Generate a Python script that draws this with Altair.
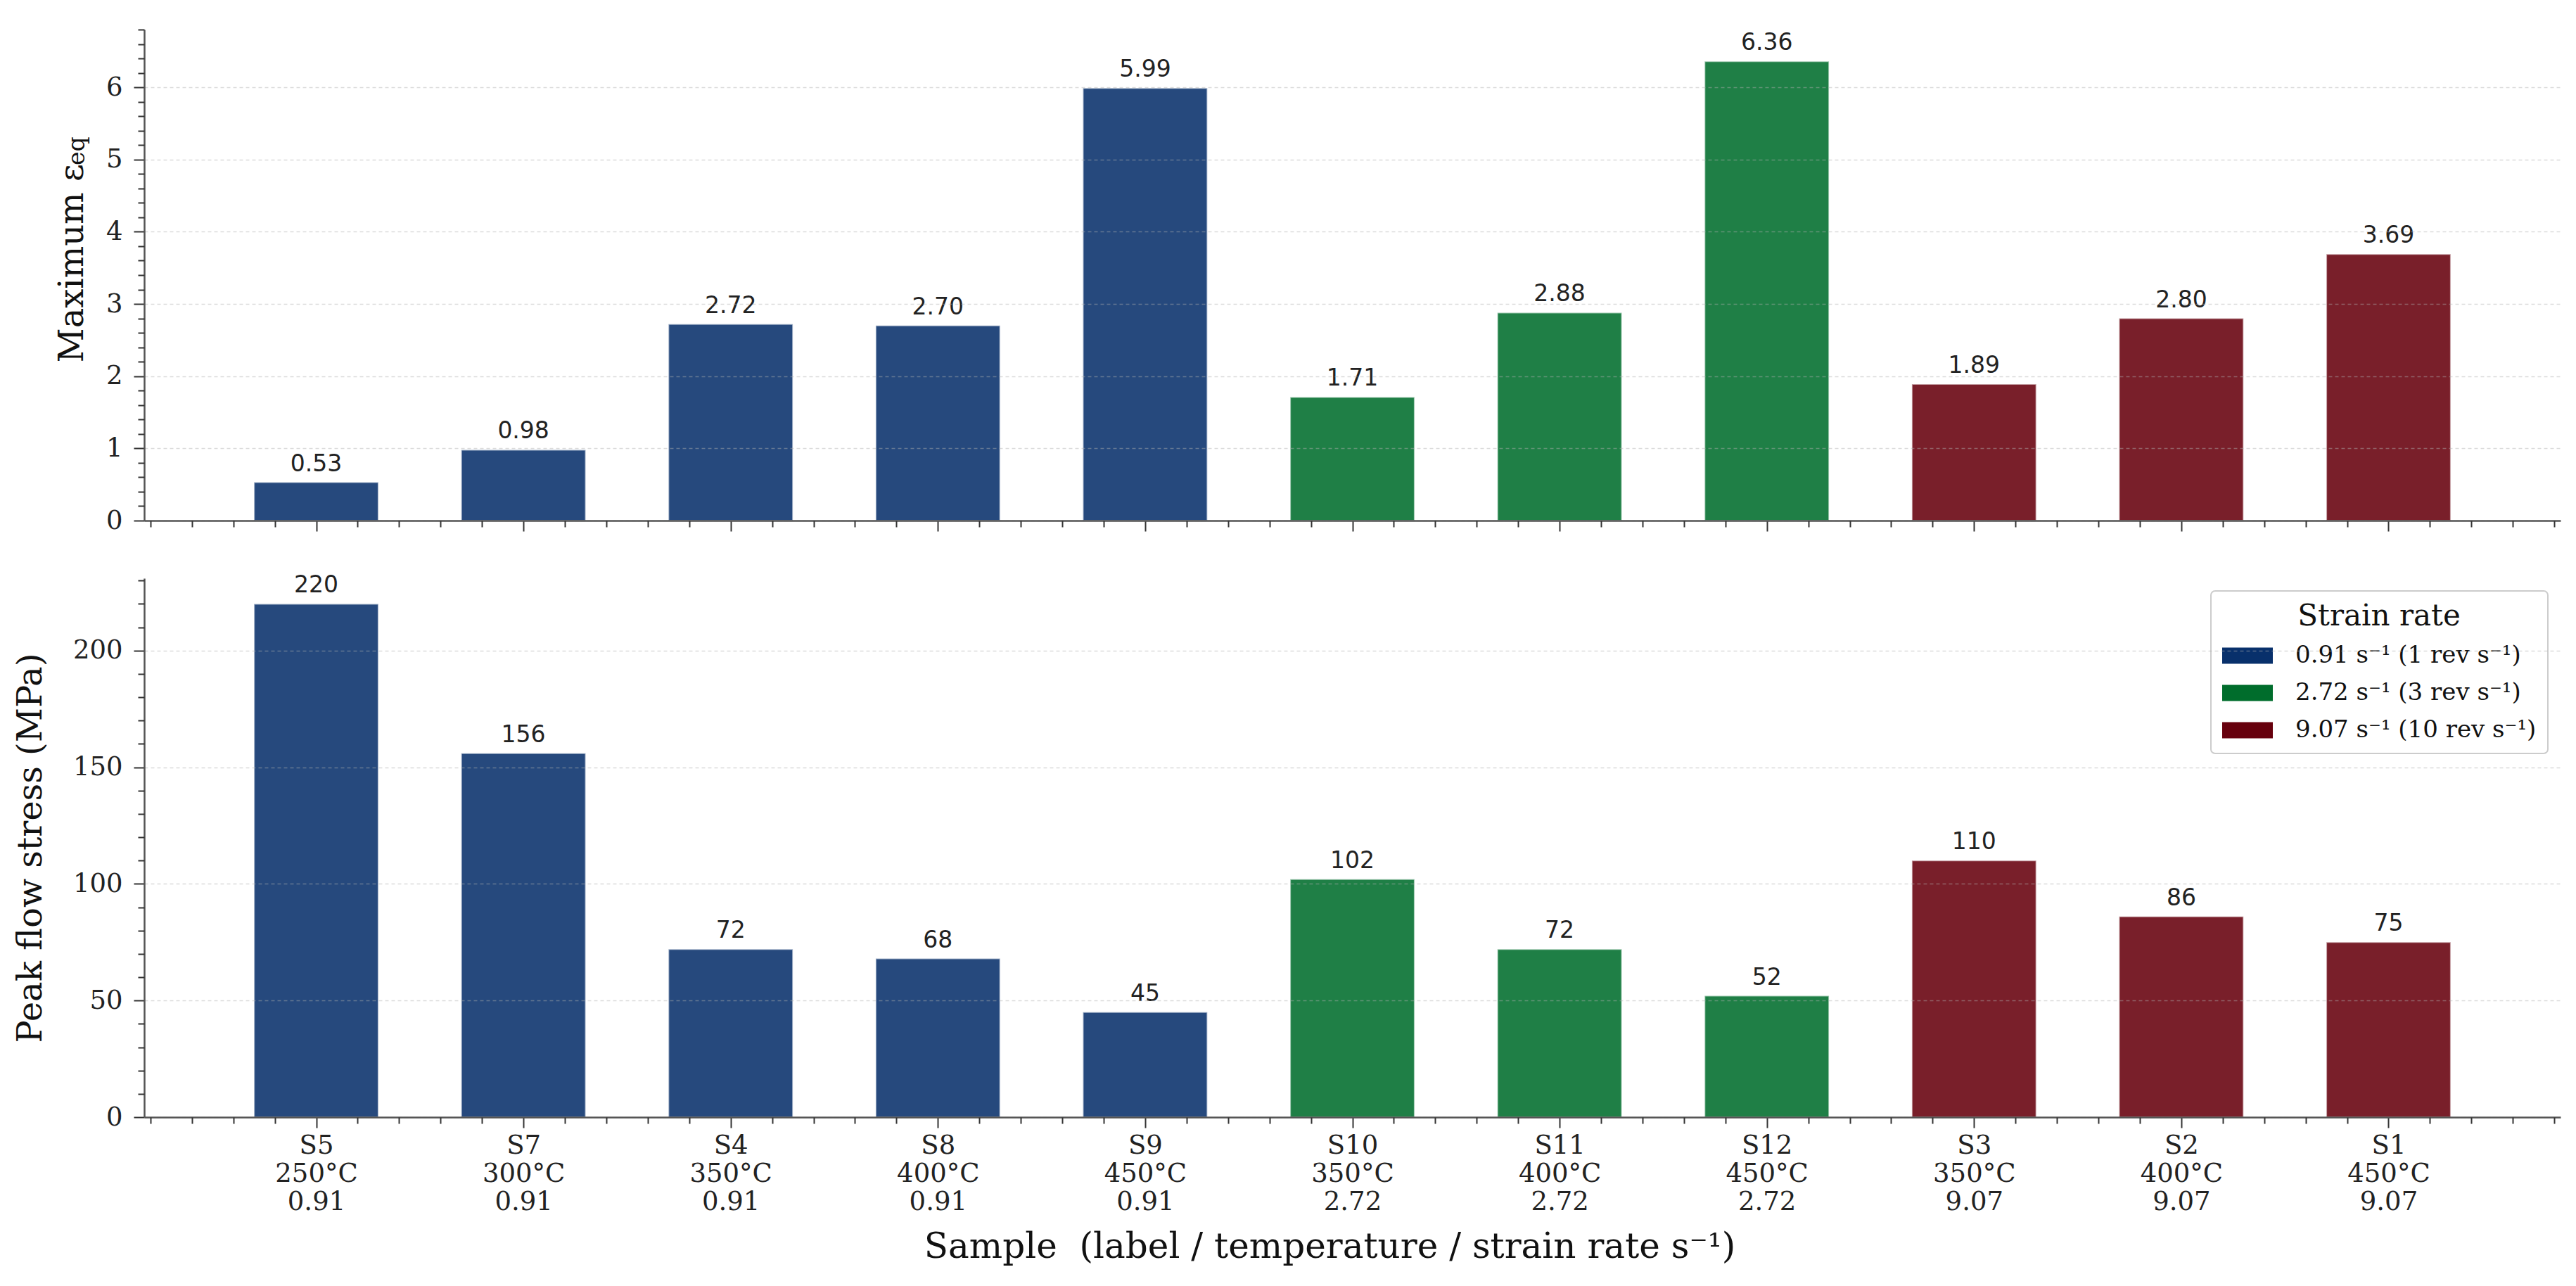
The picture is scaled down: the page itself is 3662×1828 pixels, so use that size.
import altair as alt
import pandas as pd

# ---- data -------------------------------------------------------------
samples = ["S5", "S7", "S4", "S8", "S9", "S10", "S11", "S12", "S3", "S2", "S1"]
temperatures = ["250°C", "300°C", "350°C", "400°C", "450°C",
                "350°C", "400°C", "450°C", "350°C", "400°C", "450°C"]
rate_values = ["0.91", "0.91", "0.91", "0.91", "0.91",
               "2.72", "2.72", "2.72", "9.07", "9.07", "9.07"]
max_strain = [0.53, 0.98, 2.72, 2.70, 5.99, 1.71, 2.88, 6.36, 1.89, 2.80, 3.69]
peak_stress = [220, 156, 72, 68, 45, 102, 72, 52, 110, 86, 75]

rate_groups = ["0.91 s⁻¹ (1 rev s⁻¹)", "2.72 s⁻¹ (3 rev s⁻¹)", "9.07 s⁻¹ (10 rev s⁻¹)"]
rate_keys = ["0.91", "2.72", "9.07"]
group_colors = ["#08306b", "#006d2c", "#67000d"]

strain_ticks = [0, 1, 2, 3, 4, 5, 6]
stress_ticks = [0, 50, 100, 150, 200]
strain_limit = 6.8
stress_limit = 231
x_limits = [-0.83, 10.83]
bar_half = 0.3

# ---- table ------------------------------------------------------------
group_of = dict(zip(rate_keys, rate_groups))
df = pd.DataFrame({
    "idx": list(range(len(samples))),
    "sample": samples,
    "group": [group_of[r] for r in rate_values],
    "strain": max_strain,
    "stress": peak_stress,
    "strain_txt": [f"{v:.2f}" for v in max_strain],
    "stress_txt": [f"{v:d}" for v in peak_stress],
})

# minor tick positions (every 0.2 category on x, 0.2 / 10 on the y axes)
minor_x = [round(-0.8 + 0.2 * i, 1) for i in range(59)]
minor_x = [v for v in minor_x if abs(v - round(v)) > 1e-6]
minor_strain = [round(0.2 * i, 1) for i in range(35) if i % 5]
minor_stress = [10 * i for i in range(24) if i % 5]

label_js = "[" + ",".join(
    "['%s','%s','%s']" % (s, t, r) for s, t, r in zip(samples, temperatures, rate_values)
) + "]"

FONT = "DejaVu Serif"
TITLE_SIZE = 48
x_scale = alt.Scale(domain=x_limits, nice=False, zero=False)
color_scale = alt.Scale(domain=rate_groups, range=group_colors)

GRID = dict(grid=True, gridDash=[5, 4], gridColor="#b0b0b0", gridOpacity=0.45, gridWidth=1.5)


def x_major(with_labels):
    kw = dict(values=list(range(len(samples))), orient="bottom", tickSize=15,
              domain=True, grid=False, zindex=1, labelAngle=0)
    if with_labels:
        kw.update(labels=True, labelExpr=f"{label_js}[datum.value]", labelPadding=7,
                  labelLineHeight=40, labelBaseline="top",
                  title="Sample\u00a0 (label / temperature / strain rate s⁻¹)",
                  titleFontSize=50, titleX=1685, titleY=199, titleBaseline="alphabetic")
    else:
        kw.update(labels=False, title=None)
    return alt.Axis(**kw)


x_minor = alt.Axis(values=minor_x, orient="bottom", labels=False, tickSize=9,
                   domain=False, grid=False, title=None, zindex=1)


def panel(field, txt, limit, ticks, minor, title, title_kw, legend):
    base = alt.Chart(df).transform_calculate(
        x0=f"datum.idx - {bar_half}", x1=f"datum.idx + {bar_half}"
    )
    y_scale = alt.Scale(domain=[0, limit], nice=False, zero=True)
    bars = base.mark_rect(fillOpacity=0.88, stroke="white", strokeWidth=2,
                          strokeOpacity=0.55).encode(
        x=alt.X("x0:Q", scale=x_scale, axis=x_major(legend is not None)),
        x2="x1:Q",
        y=alt.Y(f"{field}:Q", scale=y_scale,
                axis=alt.Axis(values=ticks, orient="left", tickSize=15, labelPadding=16,
                              domain=True, zindex=1, format="d", title=title,
                              titleAngle=270, titleBaseline="alphabetic", **title_kw, **GRID)),
        y2=alt.datum(0),
        color=alt.Color("group:N", scale=color_scale, legend=legend),
    )
    labels = base.mark_text(baseline="alphabetic", dy=-16, font="DejaVu Sans",
                            fontSize=33, color="#222222").encode(
        x=alt.X("idx:Q", scale=x_scale, axis=x_minor),
        y=alt.Y(f"{field}:Q", scale=y_scale,
                axis=alt.Axis(values=minor, orient="left", labels=False, tickSize=9,
                              domain=False, grid=False, title=None, zindex=1)),
        text=f"{txt}:N",
    )
    return bars, labels


legend = alt.Legend(
    title="Strain rate", orient="top-right", offset=18,
    fillColor="white", strokeColor="#cccccc", padding=16,
    titleFont=FONT, titleFontSize=42, titleFontWeight="normal", titleAnchor="middle",
    titleColor="#111111", titlePadding=10, titleLimit=2000,
    labelFont=FONT, labelFontSize=34, labelColor="#111111", labelOffset=56, labelLimit=2000,
    symbolType="M-1,-0.48H2V0.48H-1Z", symbolSize=2304, symbolOpacity=1,
    symbolStrokeWidth=0, rowPadding=12,
)

# top panel: maximum equivalent strain
t_bars, t_labels = panel("strain", "strain_txt", strain_limit, strain_ticks, minor_strain,
                         "Maximum ε", dict(titleX=-88, titleY=473, titleAlign="left"), None)
subscript = alt.Chart(alt.Data(values=[{"t": "eq"}])).mark_text(
    angle=270, align="left", baseline="alphabetic", font=FONT, fontSize=33, color="#111111"
).encode(x=alt.value(-85), y=alt.value(193), text="t:N")

top = alt.layer(t_bars, t_labels, subscript).resolve_axis(
    x="independent", y="independent").properties(width=3435, height=698)

# bottom panel: peak flow stress
b_bars, b_labels = panel("stress", "stress_txt", stress_limit, stress_ticks, minor_stress,
                         "Peak flow stress (MPa)",
                         dict(titleX=-147, titleY=383, titleAlign="center"), legend)
bottom = alt.layer(b_bars, b_labels).resolve_axis(
    x="independent", y="independent").properties(width=3435, height=766)

chart = alt.vconcat(top, bottom, spacing=82, bounds="flush").resolve_scale(
    color="independent"
).configure(
    font=FONT, background="white",
    padding={"left": 20, "top": 41, "right": 19, "bottom": 10},
).configure_view(stroke=None).configure_axis(
    labelFont=FONT, labelFontSize=37, labelColor="#222222",
    titleFont=FONT, titleFontSize=TITLE_SIZE, titleFontWeight="normal", titleColor="#111111",
    domainColor="#555555", domainWidth=2.5, tickColor="#333333", tickWidth=2,
).configure_legend(strokeWidth=2, cornerRadius=6)

chart.save("out.html", embed_options={"renderer": "svg", "actions": False})
